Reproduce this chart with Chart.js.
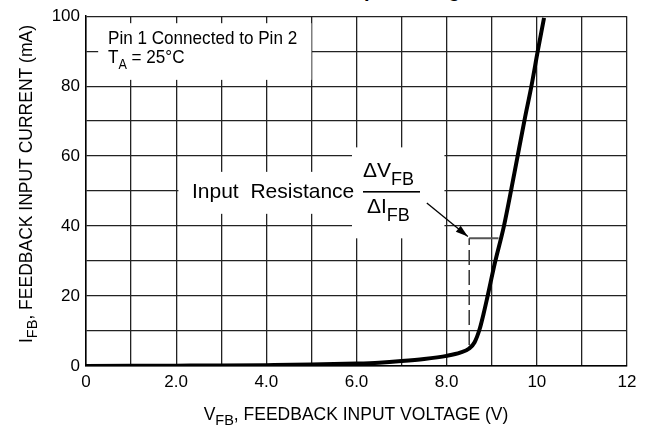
<!DOCTYPE html>
<html>
<head>
<meta charset="utf-8">
<script src="https://cdn.jsdelivr.net/npm/chart.js@4.4.0/dist/chart.umd.min.js"></script>
<style>
  body { margin: 0; background: #fff; }
  #wrap { position: relative; width: 655px; height: 434px; overflow: hidden; }
  #titulo { position: absolute; top: -21px; left: 0; width: 720px; text-align: center; font: bold 20px "Liberation Sans", Arial, sans-serif; line-height: 22px; }
  canvas { position: absolute; left: 0; top: 0; }
</style>
</head>
<body>
<div id="wrap">
  <div id="titulo">Feedback Input Voltage</div>
  <canvas id="plot" width="655" height="434"></canvas>
</div>
<script>
// Curva: V en voltios, I en mA
let voltaje   = [0, 1, 2, 3, 4, 5, 6, 6.5, 7, 7.5, 8, 8.3, 8.5, 8.62, 8.73, 8.82, 8.9, 9.07, 9.27, 9.5, 9.73, 9.88, 10.02, 10.16];
let corriente = [0, 0.05, 0.1, 0.15, 0.25, 0.4, 0.7, 0.95, 1.4, 2.0, 2.9, 3.8, 5.0, 6.8, 10.5, 15, 19.5, 29.5, 40, 55, 70.5, 80, 90, 99.5];

// Marcas de "Input Resistance"
let guiaV = [8.5, 8.5];
let guiaI = [6, 36.5];
let topeV = [8.5, 9.15];
let topeI = [36.5, 36.5];
let flechaV = [7.56, 8.47];
let flechaI = [46.6, 37.0];

// Etiquetas de los ejes
let xTickVals = [0, 2, 4, 6, 8, 10, 12];
let xTickLabels = ['0', '2.0', '4.0', '6.0', '8.0', '10', '12'];
let yTickVals = [0, 20, 40, 60, 80, 100];
let yTickLabels = ['0', '20', '40', '60', '80', '100'];

const FUENTE = '"Liberation Sans", Arial, sans-serif';

let puntos = (xs, ys) => xs.map((x, i) => ({ x: x, y: ys[i] }));

// dibuja texto con subindice (k = compresion horizontal), devuelve el ancho
let textoSub = (ctx, partes, x, y, k = 1) => {
  ctx.save();
  ctx.translate(x, y);
  ctx.scale(k, 1);
  let cx = 0;
  partes.forEach(p => {
    ctx.font = p[1] + 'px ' + FUENTE;
    ctx.fillText(p[0], cx, p[2] || 0);
    cx += ctx.measureText(p[0]).width;
  });
  ctx.restore();
  return cx * k;
};
let anchoSub = (ctx, partes, k = 1) => {
  let w = 0;
  partes.forEach(p => { ctx.font = p[1] + 'px ' + FUENTE; w += ctx.measureText(p[0]).width; });
  return w * k;
};

const anotaciones = {
  id: 'anotaciones',
  beforeDatasetsDraw(chart) {
    const ctx = chart.ctx;
    const sx = chart.scales.x, sy = chart.scales.y;
    ctx.save();
    ctx.fillStyle = '#fff';
    // caja de condiciones
    let x0 = sx.getPixelForValue(0.27), x1 = sx.getPixelForValue(5.0);
    let y0 = sy.getPixelForValue(98), y1 = sy.getPixelForValue(81.8);
    ctx.fillRect(x0, y0, x1 - x0, y1 - y0);
    // caja de Input Resistance
    x0 = sx.getPixelForValue(2.05); x1 = sx.getPixelForValue(7.85);
    y0 = sy.getPixelForValue(55.5); y1 = sy.getPixelForValue(43.5);
    ctx.fillRect(x0, y0, x1 - x0, y1 - y0);
    x0 = sx.getPixelForValue(5.9); x1 = sx.getPixelForValue(7.95);
    y0 = sy.getPixelForValue(62.5); y1 = sy.getPixelForValue(36.5);
    ctx.fillRect(x0, y0, x1 - x0, y1 - y0);

    ctx.fillStyle = '#000';
    ctx.textBaseline = 'alphabetic';
    ctx.textAlign = 'left';
    textoSub(ctx, [['Pin 1 Connected to Pin 2', 19]], 108, 44, 0.9);
    textoSub(ctx, [['T', 19], ['A', 14, 6], [' = 25°C', 19]], 108, 63, 0.9);

    ctx.font = '21px ' + FUENTE;
    ctx.fillText('Input  Resistance', 192, 198);
    textoSub(ctx, [['ΔV', 21], ['FB', 18, 8]], 363, 177);
    ctx.fillRect(363, 191, 57, 1.6);
    textoSub(ctx, [['ΔI', 21], ['FB', 18, 8]], 367, 213);
    ctx.restore();
  },
  afterDatasetsDraw(chart) {
    const ctx = chart.ctx;
    const sx = chart.scales.x, sy = chart.scales.y;
    // punta de flecha
    let ax = sx.getPixelForValue(flechaV[1]), ay = sy.getPixelForValue(flechaI[1]);
    let bx = sx.getPixelForValue(flechaV[0]), by = sy.getPixelForValue(flechaI[0]);
    let ang = Math.atan2(ay - by, ax - bx);
    ctx.save();
    ctx.fillStyle = '#000';
    ctx.beginPath();
    ctx.moveTo(ax, ay);
    ctx.lineTo(ax - 13 * Math.cos(ang - 0.3), ay - 13 * Math.sin(ang - 0.3));
    ctx.lineTo(ax - 13 * Math.cos(ang + 0.3), ay - 13 * Math.sin(ang + 0.3));
    ctx.closePath();
    ctx.fill();
    ctx.restore();
  },
  afterDraw(chart) {
    const ctx = chart.ctx;
    ctx.save();
    ctx.fillStyle = '#000';
    ctx.textBaseline = 'alphabetic';
    // titulo eje x
    let px = [['V', 17.5], ['FB', 14.5, 5], [', FEEDBACK INPUT VOLTAGE (V)', 17.5]];
    let w = anchoSub(ctx, px);
    textoSub(ctx, px, 356 - w / 2, 420);
    // titulo eje y (rotado)
    let py = [['I', 17.5], ['FB', 14.5, 5], [', FEEDBACK INPUT CURRENT (mA)', 17.5]];
    w = anchoSub(ctx, py);
    ctx.translate(32, 184);
    ctx.rotate(-Math.PI / 2);
    textoSub(ctx, py, -w / 2, 0);
    ctx.restore();
  }
};

let plotRef = document.getElementById('plot');

let config = {
  type: 'line',
  data: {
    datasets: [
      {
        data: puntos(voltaje, corriente),
        borderColor: '#000',
        borderWidth: 4,
        pointRadius: 0,
        cubicInterpolationMode: 'monotone',
        fill: false
      },
      {
        data: puntos(guiaV, guiaI),
        borderColor: '#333',
        borderWidth: 1.5,
        borderDash: [15, 5],
        pointRadius: 0
      },
      {
        data: puntos(topeV, topeI),
        borderColor: '#555',
        borderWidth: 2,
        pointRadius: 0
      },
      {
        data: puntos(flechaV, flechaI),
        borderColor: '#000',
        borderWidth: 1.3,
        pointRadius: 0
      }
    ]
  },
  options: {
    responsive: false,
    animation: false,
    devicePixelRatio: 1,
    layout: { padding: { top: 16, right: 28, left: 0, bottom: 0 } },
    plugins: { legend: { display: false }, tooltip: { enabled: false } },
    scales: {
      x: {
        type: 'linear',
        min: 0,
        max: 12,
        afterFit: (scale) => { scale.height = 68; },
        ticks: {
          stepSize: 1,
          autoSkip: false,
          maxRotation: 0,
          padding: 6,
          color: '#000',
          font: { family: FUENTE, size: 17 },
          callback: (v) => { let i = xTickVals.indexOf(v); return i >= 0 ? xTickLabels[i] : ''; }
        },
        grid: { color: '#222', lineWidth: 1.3, drawTicks: false },
        border: { color: '#000', width: 1.5 }
      },
      y: {
        min: 0,
        max: 100,
        afterFit: (scale) => { scale.width = 86; },
        ticks: {
          stepSize: 10,
          autoSkip: false,
          padding: 6,
          color: '#000',
          font: { family: FUENTE, size: 17 },
          callback: (v) => { let i = yTickVals.indexOf(v); return i >= 0 ? yTickLabels[i] : ''; }
        },
        grid: { color: '#222', lineWidth: 1.3, drawTicks: false },
        border: { color: '#000', width: 1.5 }
      }
    }
  },
  plugins: [anotaciones]
};

let chart1 = new Chart(plotRef, config);
</script>
</body>
</html>
